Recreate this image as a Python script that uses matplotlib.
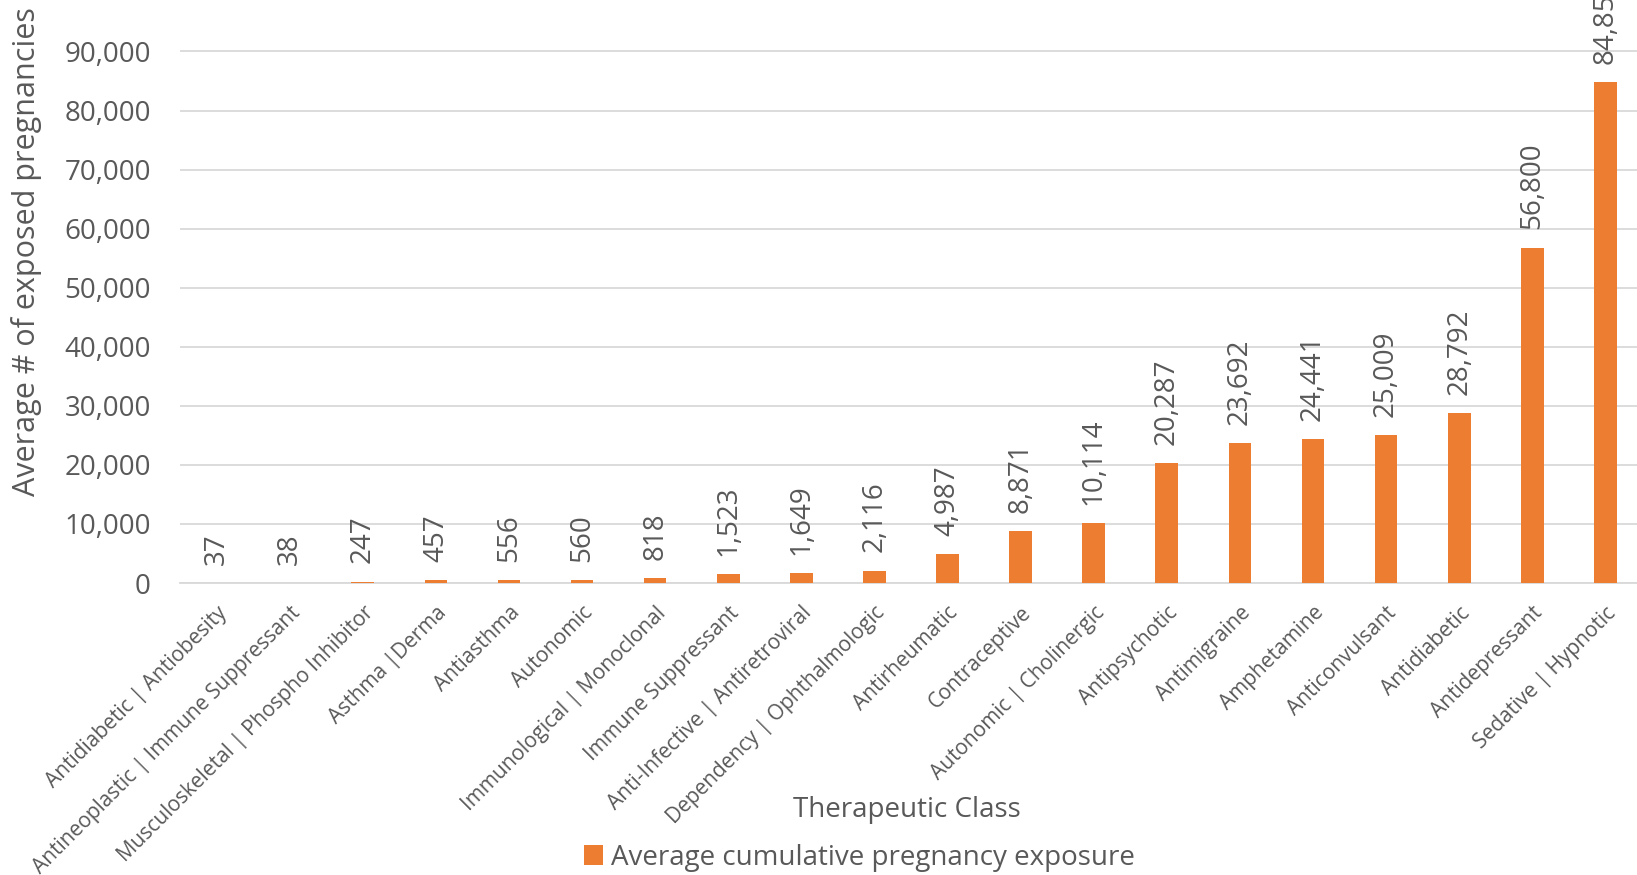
import matplotlib
matplotlib.use("Agg")
from matplotlib import pyplot as plt
from matplotlib.ticker import FuncFormatter

# values
classes = ["Antidiabetic | Antiobesity", "Antineoplastic | Immune Suppressant",
           "Musculoskeletal | Phospho Inhibitor", "Asthma |Derma", "Antiasthma",
           "Autonomic", "Immunological | Monoclonal", "Immune Suppressant",
           "Anti-Infective | Antiretroviral", "Dependency | Ophthalmologic",
           "Antirheumatic", "Contraceptive", "Autonomic | Cholinergic",
           "Antipsychotic", "Antimigraine", "Amphetamine", "Anticonvulsant",
           "Antidiabetic", "Antidepressant", "Sedative | Hypnotic"]
exposure = [37, 38, 247, 457, 556, 560, 818, 1523, 1649, 2116,
            4987, 8871, 10114, 20287, 23692, 24441, 25009, 28792, 56800, 84855]
series_name = "Average cumulative pregnancy exposure"

orange = "#ED7D31"
grey_text = "#595959"
grid_col = "#D9D9D9"

plt.rcParams['font.family'] = ['Open Sans', 'DejaVu Sans']

fig = plt.figure(figsize=(16.37, 8.75), dpi=100)
ax = fig.add_axes([0.110, 0.3337, 0.893, 0.675])

x = list(range(len(classes)))
ax.bar(x, exposure, width=0.31, color=orange, label=series_name, zorder=3)

# data labels, rotated, above each bar
for xi, v in zip(x, exposure):
    ax.annotate(f"{v:,}", (xi, v), xytext=(0, 13), textcoords="offset points",
                rotation=90, ha="center", va="bottom", fontsize=20,
                color=grey_text, annotation_clip=False)

ax.set_xlim(-0.5, len(classes) - 0.5)
ax.set_ylim(0, 100000)
ax.set_yticks(range(0, 90001, 10000))
ax.yaxis.set_major_formatter(FuncFormatter(lambda v, p: f"{int(v):,}"))
ax.grid(axis="y", color=grid_col, linewidth=1.3, zorder=0)
for s in ["top", "right", "left"]:
    ax.spines[s].set_visible(False)
ax.spines["bottom"].set_color(grid_col)
ax.spines["bottom"].set_linewidth(1.3)

ax.set_xticks(x)
ax.set_xticklabels(classes, rotation=45, ha="right", rotation_mode="anchor",
                   fontsize=15, color=grey_text)
ax.tick_params(axis="x", length=0, pad=14)
ax.tick_params(axis="y", length=0, pad=21, labelsize=20, labelcolor=grey_text)

fig.text(0.016, 0.713, "Average # of exposed pregnancies", rotation=90,
         ha="center", va="center", fontsize=22, color=grey_text)
fig.text(0.554, 0.074, "Therapeutic Class", ha="center", va="center",
         fontsize=20, color=grey_text)

leg = ax.legend(loc="center", bbox_to_anchor=(0.525, 0.02),
                bbox_transform=fig.transFigure, frameon=False, fontsize=20,
                handlelength=0.7, handleheight=0.7, handletextpad=0.3)
for t in leg.get_texts():
    t.set_color(grey_text)

fig.savefig("out.png", dpi=100)
